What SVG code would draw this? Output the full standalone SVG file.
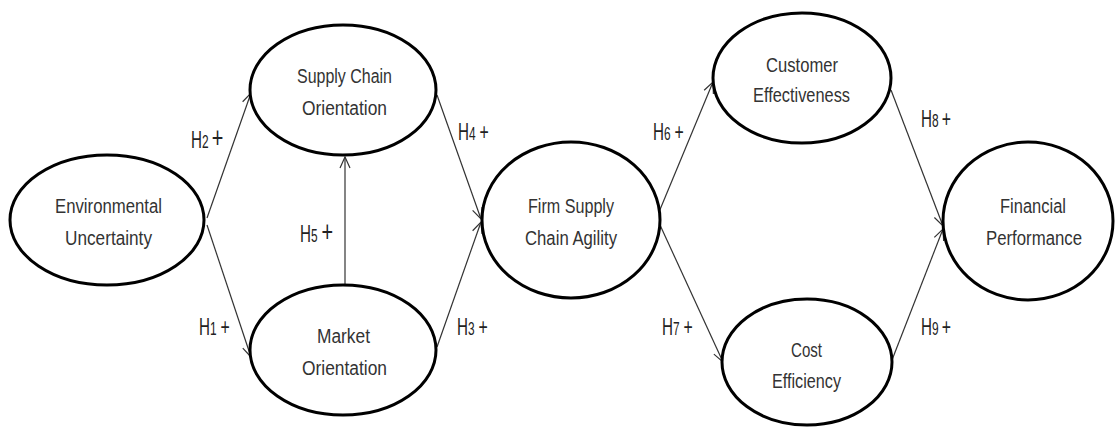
<svg xmlns="http://www.w3.org/2000/svg" width="1115" height="427" viewBox="0 0 1115 427">
<style>
.node ellipse{fill:#fff;stroke:#000;stroke-width:3}
.node text{font-family:"Liberation Sans",Arial,sans-serif;font-size:20px;fill:#333;text-anchor:middle}
.edge{stroke:#333;stroke-width:1.2;fill:none;marker-end:url(#arr)}
.lbl{font-family:"Liberation Sans",Arial,sans-serif;font-size:23px;fill:#222}
.lbl .d{font-size:18px}
.lbl .p{font-size:24px}
.lbl .pb{font-size:30px}
</style>
<defs>
<marker id="arr" markerUnits="userSpaceOnUse" markerWidth="14" markerHeight="12" viewBox="0 0 14 12" refX="12" refY="6" orient="auto">
<path d="M1,1 L12,6 L1,11" fill="none" stroke="#333" stroke-width="1.2"/>
</marker>
</defs>
<rect width="1115" height="427" fill="#fff"/>
<g id="connectors">
<line class="edge" x1="207" y1="218" x2="251" y2="93"/>
<line class="edge" x1="207" y1="225" x2="251" y2="357"/>
<line class="edge" x1="345" y1="284" x2="345" y2="157"/>
<line class="edge" x1="437" y1="95" x2="481" y2="219"/>
<line class="edge" x1="437" y1="347" x2="481" y2="222"/>
<line class="edge" x1="659" y1="212" x2="713" y2="82"/>
<line class="edge" x1="660" y1="225" x2="723" y2="362"/>
<line class="edge" x1="891" y1="90" x2="943" y2="226"/>
<line class="edge" x1="892" y1="360" x2="943" y2="229"/>
</g>
<g id="labels">
<text class="lbl" transform="translate(191,148) scale(0.66,1)">H<tspan class="d">2</tspan><tspan class="pb" dx="5">+</tspan></text>
<text class="lbl" transform="translate(199,335) scale(0.66,1)">H<tspan class="d">1</tspan><tspan class="p" dx="6">+</tspan></text>
<text class="lbl" transform="translate(300,242) scale(0.66,1)">H<tspan class="d">5</tspan><tspan class="pb" dx="6">+</tspan></text>
<text class="lbl" transform="translate(458,140) scale(0.66,1)">H<tspan class="d">4</tspan><tspan class="p" dx="6">+</tspan></text>
<text class="lbl" transform="translate(457,335) scale(0.66,1)">H<tspan class="d">3</tspan><tspan class="p" dx="6">+</tspan></text>
<text class="lbl" transform="translate(653,140) scale(0.66,1)">H<tspan class="d">6</tspan><tspan class="p" dx="6">+</tspan></text>
<text class="lbl" transform="translate(662,335) scale(0.66,1)">H<tspan class="d">7</tspan><tspan class="p" dx="6">+</tspan></text>
<text class="lbl" transform="translate(921,127) scale(0.66,1)">H<tspan class="d">8</tspan><tspan class="p" dx="5">+</tspan></text>
<text class="lbl" transform="translate(921,335) scale(0.66,1)">H<tspan class="d">9</tspan><tspan class="p" dx="5">+</tspan></text>
</g>
<g id="environmental-uncertainty" class="node">
<ellipse cx="107" cy="220" rx="97" ry="65"/>
<text x="108.5" y="213" textLength="107" lengthAdjust="spacingAndGlyphs">Environmental</text>
<text x="108.5" y="245" textLength="87" lengthAdjust="spacingAndGlyphs">Uncertainty</text>
</g>
<g id="supply-chain-orientation" class="node">
<ellipse cx="343" cy="90" rx="93" ry="65"/>
<text x="344.5" y="83" textLength="95" lengthAdjust="spacingAndGlyphs">Supply Chain</text>
<text x="344.5" y="115" textLength="85" lengthAdjust="spacingAndGlyphs">Orientation</text>
</g>
<g id="market-orientation" class="node">
<ellipse cx="343" cy="350" rx="93" ry="65"/>
<text x="343.5" y="343" textLength="53" lengthAdjust="spacingAndGlyphs">Market</text>
<text x="344.5" y="375" textLength="85" lengthAdjust="spacingAndGlyphs">Orientation</text>
</g>
<g id="firm-supply-chain-agility" class="node">
<ellipse cx="571" cy="220" rx="89" ry="78"/>
<text x="571" y="213" textLength="86" lengthAdjust="spacingAndGlyphs">Firm Supply</text>
<text x="571" y="245" textLength="92" lengthAdjust="spacingAndGlyphs">Chain Agility</text>
</g>
<g id="customer-effectiveness" class="node">
<ellipse cx="802" cy="78" rx="89" ry="65"/>
<text x="802" y="72" textLength="72" lengthAdjust="spacingAndGlyphs">Customer</text>
<text x="801.5" y="102" textLength="97" lengthAdjust="spacingAndGlyphs">Effectiveness</text>
</g>
<g id="cost-efficiency" class="node">
<ellipse cx="807" cy="362" rx="85" ry="63"/>
<text x="806.5" y="357" textLength="31" lengthAdjust="spacingAndGlyphs">Cost</text>
<text x="806.5" y="388" textLength="69" lengthAdjust="spacingAndGlyphs">Efficiency</text>
</g>
<g id="financial-performance" class="node">
<ellipse cx="1028" cy="221" rx="85" ry="79"/>
<text x="1033" y="213" textLength="66" lengthAdjust="spacingAndGlyphs">Financial</text>
<text x="1034" y="245" textLength="96" lengthAdjust="spacingAndGlyphs">Performance</text>
</g>
</svg>
